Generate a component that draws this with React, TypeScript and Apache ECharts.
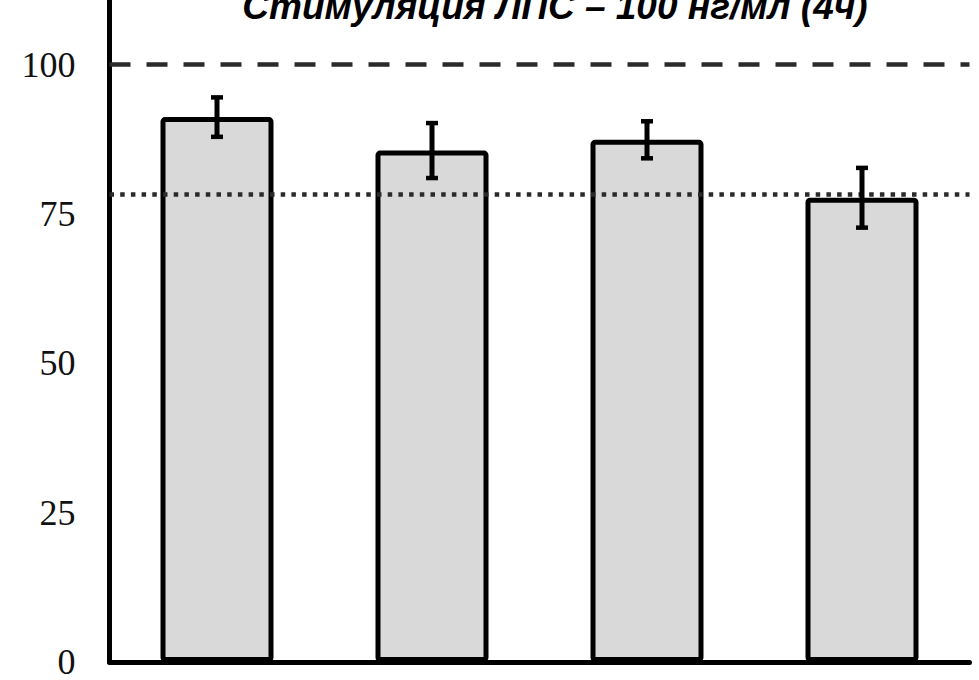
import React, { useEffect, useRef } from "react";
import * as echarts from "echarts";

const TITLE = "Стимуляция ЛПС – 100 нг/мл (4ч)";
const categories = ["A", "B", "C", "D"];
const means = [91.2, 85.6, 87.4, 77.7];
const errors = [3.3, 4.6, 3.1, 5.0];
const controlLevel = 100;
const dottedLevel = 78.3;
const yTicks = [0, 25, 50, 75, 100];

export default function App() {
  const ref = useRef<HTMLDivElement>(null);
  useEffect(() => {
    document.body.style.margin = "0";
    const chart = echarts.init(ref.current!, null, { renderer: "svg" });
    const errData = means.map((m, i) => [i, m - errors[i], m + errors[i]]);
    chart.setOption({
      animation: false,
      backgroundColor: "#ffffff",
      grid: { left: 109.5, right: 9.5, top: 0, bottom: 15, containLabel: false },
      xAxis: {
        type: "category",
        data: categories,
        axisLine: { lineStyle: { color: "#000", width: 5 } },
        axisTick: { show: false },
        axisLabel: { show: false },
        splitLine: { show: false },
      },
      yAxis: {
        type: "value",
        min: 0,
        max: 110.8,
        interval: 25,
        axisLine: { show: true, lineStyle: { color: "#000", width: 5 } },
        axisTick: { show: false },
        splitLine: { show: false },
        axisLabel: {
          showMaxLabel: false,
          margin: 34,
          color: "#111",
          fontFamily: "Liberation Serif",
          fontSize: 36,
          lineHeight: 26,
          formatter: (v: number) => (yTicks.includes(v) ? String(v) : ""),
        },
      },
      graphic: [
        {
          type: "text",
          x: 555,
          y: 6,
          style: {
            text: TITLE,
            font: 'italic bold 37px "Liberation Sans"',
            fill: "#000",
            align: "center",
            verticalAlign: "middle",
          },
        },
      ],
      series: [
        {
          type: "bar",
          data: means,
          barWidth: 113,
          itemStyle: {
            color: "#d9d9d9",
            borderColor: "#000",
            borderWidth: 5,
            borderRadius: 2,
          },
          markLine: {
            symbol: "none",
            silent: true,
            label: { show: false },
            data: [
              { yAxis: controlLevel, lineStyle: { color: "#2a2a2a", width: 4.5, type: [21, 16] } },
              { yAxis: dottedLevel, lineStyle: { color: "#2a2a2a", width: 4.5, type: [4.5, 6.2] } },
            ],
          },
        },
        {
          type: "custom",
          data: errData,
          z: 5,
          renderItem: (params: any, api: any) => {
            const x = api.value(0);
            const lo = api.coord([x, api.value(1)]);
            const hi = api.coord([x, api.value(2)]);
            const cx = lo[0];
            const half = 6;
            const st = { stroke: "#000", lineWidth: 4.5 };
            return {
              type: "group",
              children: [
                { type: "line", shape: { x1: cx, y1: lo[1], x2: cx, y2: hi[1] }, style: { ...st, lineWidth: 5 } },
                { type: "line", shape: { x1: cx - half, y1: hi[1], x2: cx + half, y2: hi[1] }, style: st },
                { type: "line", shape: { x1: cx - half, y1: lo[1], x2: cx + half, y2: lo[1] }, style: st },
              ],
            };
          },
        },
      ],
    });
    return () => chart.dispose();
  }, []);
  return <div ref={ref} style={{ width: 979, height: 680 }} />;
}
